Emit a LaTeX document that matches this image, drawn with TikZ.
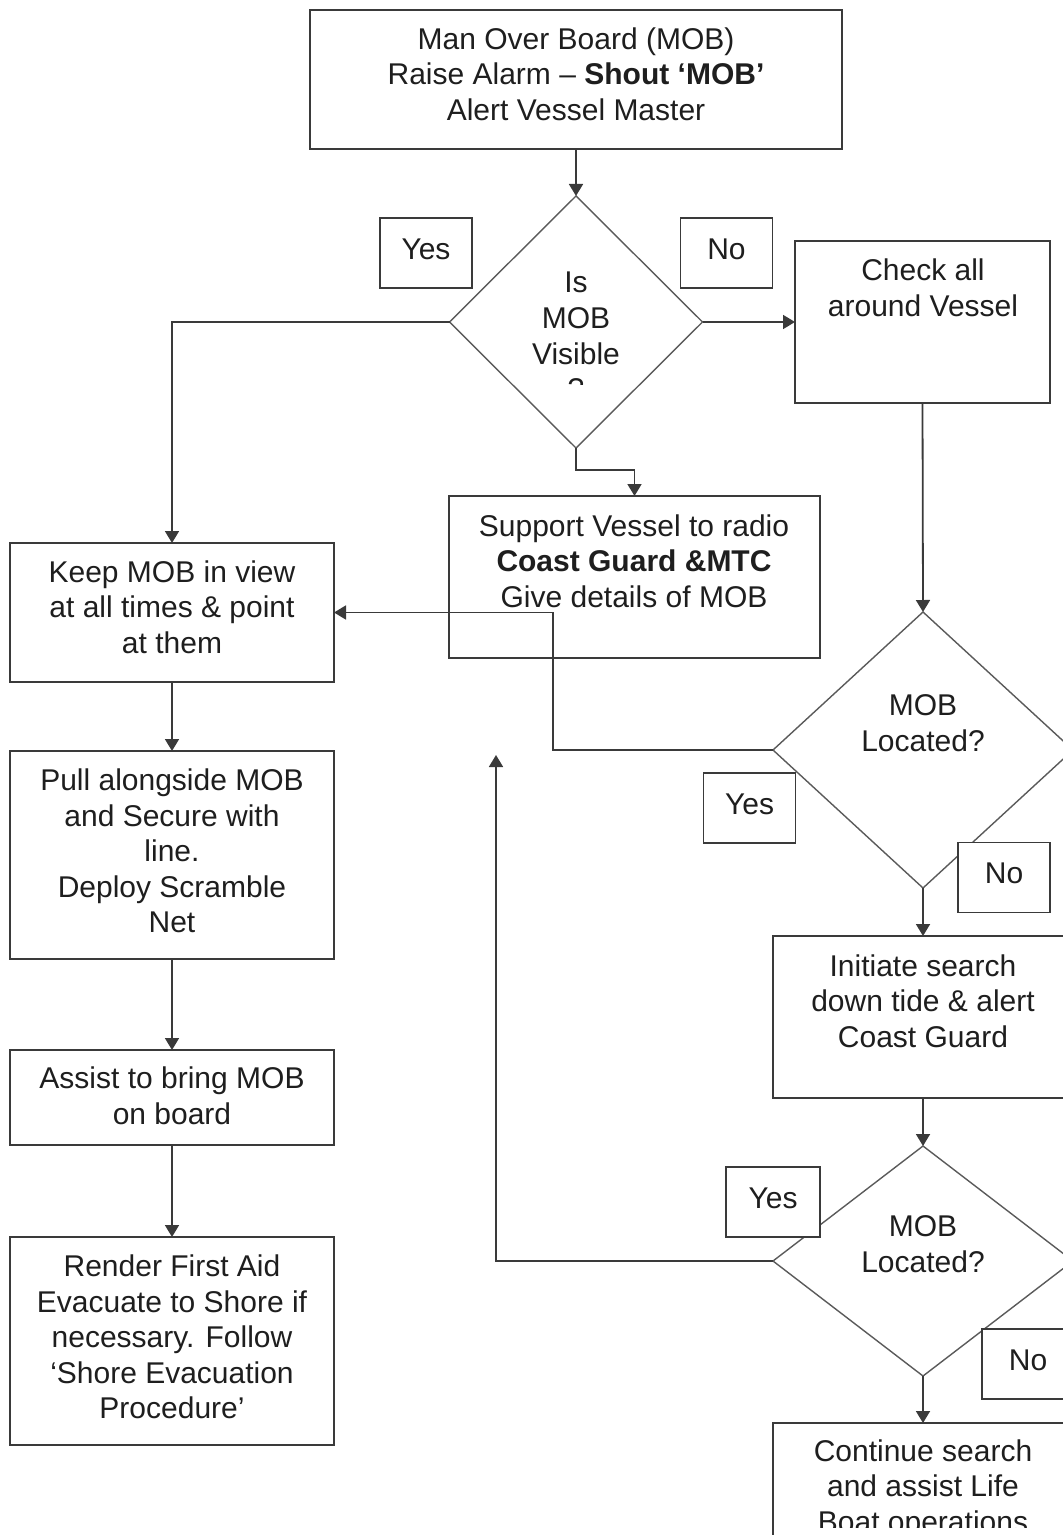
\documentclass[tikz,border=0pt]{standalone}
\usepackage{fontspec}
\setmainfont{Liberation Sans}
\usetikzlibrary{arrows.meta,shapes.geometric}
\definecolor{ink}{HTML}{1E1E1E}
\definecolor{edge}{HTML}{3A3A3A}
\definecolor{dedge}{HTML}{5A5A5A}
\begin{document}
\begin{tikzpicture}[x=0.5pt,y=-0.5pt,
  font=\fontsize{15}{17.8}\selectfont, text=ink,
  box/.style={draw=edge, line width=0.9pt, inner sep=0pt, outer sep=0pt},
  lbl/.style={draw=edge, line width=0.9pt, fill=white, inner sep=0pt, outer sep=0pt,
    minimum width=46pt, minimum height=35pt, text depth=4pt},
  txt/.style={align=center, inner sep=0pt},
  dec/.style={diamond, draw=dedge, line width=0.7pt, inner sep=0pt, outer sep=0pt},
  link/.style={draw=edge, line width=0.9pt},
  arr/.style={link, -{Triangle[length=6pt,width=7pt]}}]
\useasboundingbox (0,0) rectangle (1063,1535);
\clip (0,0) rectangle (1063,1535);

% process boxes
\node[box, minimum width=266pt, minimum height=69.5pt] (top) at (576,79.5) {};
\node[txt] (topT) at (576,74) {Man Over Board (MOB)\\Raise Alarm -- \textbf{Shout ‘MOB’}\\Alert Vessel Master};

\node[box, minimum width=127.5pt, minimum height=81pt] (check) at (922.5,322) {};
\node[txt] (checkT) at (923,288) {Check all\\around Vessel};

\node[box, minimum width=185.5pt, minimum height=81pt] (support) at (634.5,577) {};
\node[txt] (supportT) at (634,561) {Support Vessel to radio\\\textbf{Coast Guard \&MTC}\\Give details of MOB};

\node[box, minimum width=162pt, minimum height=69.5pt] (keep) at (172,612.5) {};
\node[txt] (keepT) at (172,607) {Keep MOB in view\\at all times \& point\\at them};

\node[box, minimum width=162pt, minimum height=104pt] (pull) at (172,855) {};
\node[txt] (pullT) at (172,851) {Pull alongside MOB\\and Secure with\\line.\\Deploy Scramble\\Net};

\node[box, minimum width=162pt, minimum height=47.5pt] (assist) at (172,1097.5) {};
\node[txt] (assistT) at (172,1096) {Assist to bring MOB\\on board};

\node[box, minimum width=162pt, minimum height=104pt] (render) at (172,1341) {};
\node[txt] (renderT) at (172,1337) {Render First Aid\\Evacuate to Shore if\\necessary. Follow\\‘Shore Evacuation\\Procedure’};

\node[box, minimum width=150pt, minimum height=81pt] (init) at (923,1017) {};
\node[txt] (initT) at (923,1001) {Initiate search\\down tide \& alert\\Coast Guard};

\node[box, minimum width=150pt, minimum height=100pt] (cont) at (923,1523) {};
\begin{scope}
  \clip (773,1423) rectangle (1073,1527);
  \node[txt] (contT) at (923,1489) {Continue search\\and assist Life\\Boat operations};
\end{scope}

% decisions
\node[dec, minimum width=126.5pt, minimum height=126pt] (d1) at (576,322) {};
\begin{scope}
  \clip (450,196) rectangle (703,384);
  \node[txt] (d1T) at (576,336) {Is\\MOB\\Visible\\?};
\end{scope}

\node[dec, minimum width=150pt, minimum height=138pt] (d2) at (923,750) {};
\node[txt] (d2T) at (923,723) {MOB\\Located?};

\node[dec, minimum width=150pt, minimum height=115pt] (d3) at (923,1261) {};
\node[txt] (d3T) at (923,1244) {MOB\\Located?};

% answer labels
\node[lbl] (yes1) at (426,253) {Yes};
\node[lbl] (no1) at (726.5,253) {No};
\node[lbl] (yes2) at (749.5,808) {Yes};
\node[lbl] (no2) at (1004,877.5) {No};
\node[lbl, minimum width=47pt] (yes3) at (773,1202) {Yes};
\node[lbl] (no3) at (1028,1364) {No};

% connectors
\coordinate (loopend) at (496,755);
\draw[arr] (top.south) -- (d1.north);
\draw[arr] (d1.west) -| (keep.north);
\draw[arr] (d1.east) -- (check.west);
\draw[arr] (d1.south) -- ++(0,22) -| (support.north);
\draw[arr] (check.south) -- (d2.north);
\draw[arr] (d2.west) -- ++(-220,0) |- (keep.east);
\draw[arr] (d2.south) -- (init.north);
\draw[arr] (init.south) -- (d3.north);
\draw[arr] (d3.west) -| (loopend);
\draw[arr] (d3.south) -- (cont.north);
\draw[arr] (keep.south) -- (pull.north);
\draw[arr] (pull.south) -- (assist.north);
\draw[arr] (assist.south) -- (render.north);
\end{tikzpicture}
\end{document}
